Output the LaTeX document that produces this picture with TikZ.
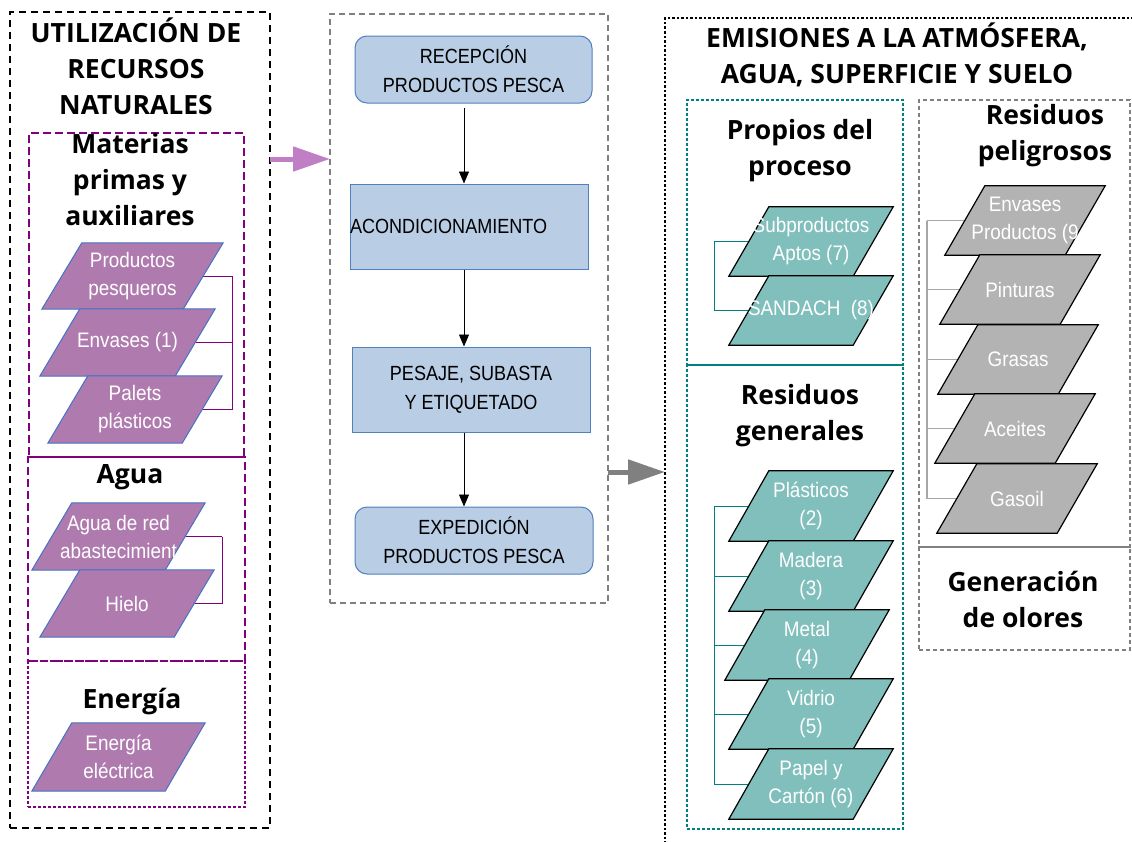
\documentclass[tikz,border=0pt]{standalone}
\usepackage{fontspec}
\setmainfont{Open Sans}
\newfontfamily\narrowfont[FakeStretch=0.88]{Liberation Sans}
\newfontfamily\paralfont[FakeStretch=0.9]{Liberation Sans}
\usetikzlibrary{positioning,arrows.meta,backgrounds}
\pgfdeclarelayer{back}
\pgfsetlayers{back,background,main}

\definecolor{lila}{HTML}{AF7BAF}
\definecolor{lilaline}{HTML}{800080}
\definecolor{lilaborde}{HTML}{4472C4}
\definecolor{flecha}{HTML}{C07EC4}
\definecolor{verde}{HTML}{80BFBC}
\definecolor{verdeline}{HTML}{008080}
\definecolor{gris}{HTML}{B3B3B3}
\definecolor{azul}{HTML}{B9CDE5}
\definecolor{azulline}{HTML}{4F81BD}

% parallelogram: name, top-left x, top y, width, height, style, text
\newcommand{\paral}[7]{%
  \node[ptext, minimum width={#4+40}, minimum height=#5] (#1) at ({#2+#4/2-20},{#3+#5/2}) {#7};
  \begin{pgfonlayer}{background}
    \path[#6] ([xshift=40pt]#1.north west) -- (#1.north east) -- ([xshift=-40pt]#1.south east) -- (#1.south west) -- cycle;
  \end{pgfonlayer}
}

\begin{document}
\begin{tikzpicture}[x=1pt, y=-1pt,
  box/.style={inner sep=0, outer sep=0},
  recframe/.style={draw=black, line width=2.4pt, dash pattern=on 7pt off 5pt},
  lilaframe/.style={draw=lilaline, line width=2.4pt, dash pattern=on 8pt off 4pt},
  liladots/.style={draw=lilaline, line width=2.4pt, dash pattern=on 3pt off 2pt},
  procframe/.style={draw=gray, line width=2pt, dash pattern=on 6pt off 4pt},
  emiframe/.style={draw=black, line width=2.4pt, dash pattern=on 2.5pt off 2pt},
  verdeframe/.style={draw=verdeline, line width=2.4pt, dash pattern=on 3pt off 2pt},
  grisframe/.style={draw=gray, line width=2pt, dash pattern=on 4pt off 3pt},
  heading/.style={font=\fontsize{26.5}{36}\selectfont\bfseries, align=center},
  ptext/.style={font=\paralfont\fontsize{21}{28}\selectfont, text=white, align=center, inner sep=0},
  lilapara/.style={fill=lila, draw=lilaborde, line width=1pt},
  verdepara/.style={fill=verde, draw=black, line width=1.2pt},
  grispara/.style={fill=gris, draw=black, line width=1.2pt},
  paso/.style={fill=azul, draw=azulline, line width=1pt, font=\narrowfont\fontsize{20.5}{29}\selectfont, align=center, inner sep=0},
  flow/.style={-{Triangle[length=12pt,width=10pt]}, line width=0.8pt},
  bigarrow/.style={line width=5pt, -{Triangle[length=37pt,width=24pt]}},
  lbrack/.style={lilaline, line width=1pt},
  vbrack/.style={verdeline, line width=1pt},
  gbrack/.style={gray!70, line width=1.2pt}
]
\path[use as bounding box] (0,0) rectangle (1132,841);
\clip (0,0) rectangle (1132,841);

% frames
\node[box, recframe, minimum width=260, minimum height=816] (recursos) at (140,420) {};
\node[box, lilaframe, minimum width=215, minimum height=324] (materias) at (136.5,295) {};
\node[box, lilaframe, minimum width=217, minimum height=204] (agua) at (136.5,559) {};
\node[box, liladots, minimum width=217, minimum height=146] (energia) at (136.5,734) {};
\node[box, procframe, minimum width=278, minimum height=589] (proceso) at (469,308.5) {};
\node[box, emiframe, minimum width=500, minimum height=850] (emisiones) at (915,443) {};
\node[box, verdeframe, minimum width=216, minimum height=265] (propios) at (795,232.5) {};
\node[box, verdeframe, minimum width=216, minimum height=464] (generales) at (795,597) {};
\node[box, grisframe, minimum width=211, minimum height=447] (peligrosos) at (1024.5,323.5) {};
\node[box, grisframe, minimum width=211, minimum height=103] (olores) at (1024.5,598.5) {};

% headings
\node[heading] (tusos) at (136,66) {UTILIZACIÓN DE\\RECURSOS\\NATURALES};
\node[heading] (tmaterias) at (130,180) {Materias\\primas y\\auxiliares};
\node[heading] (tagua) at (130,477) {Agua};
\node[heading] (tenergia) at (132,702) {Energía};
\node[heading] (temisiones) at (897,55) {EMISIONES A LA ATMÓSFERA,\\AGUA, SUPERFICIE Y SUELO};
\node[heading] (tpropios) at (800,151) {Propios del\\proceso};
\node[heading] (tgenerales) at (800,416) {Residuos\\generales};
\node[heading] (tpeligrosos) at (1045,136) {Residuos\\peligrosos};
\node[heading] (tolores) at (1023,599) {Generación\\de olores};

% inputs
\paral{pp1}{82}{243}{141}{66}{lilapara}{Productos\\pesqueros}
\paral{pp2}{80}{309}{135}{67}{lilapara}{Envases (1)}
\paral{pp3}{88}{376}{134}{67}{lilapara}{Palets\\plásticos}
\paral{pa1}{72}{503}{133}{67}{lilapara}{Agua de red\\abastecimient}
\paral{pa2}{80}{570}{134}{67}{lilapara}{Hielo}
\paral{pe1}{72}{723}{133}{68}{lilapara}{Energía\\eléctrica}

% process
\node[paso, rounded corners=12pt, minimum width=237, minimum height=67] (recep) at (473.5,69.5) {RECEPCIÓN\\PRODUCTOS PESCA};
\node[paso, minimum width=238, minimum height=85, text width=238pt, align=left] (acond) at (469,226.5) {ACONDICIONAMIENTO};
\node[paso, minimum width=238, minimum height=85] (pesaje) at (471,389.5) {PESAJE, SUBASTA\\Y ETIQUETADO};
\node[paso, rounded corners=12pt, minimum width=238, minimum height=67] (exped) at (474,540.5) {EXPEDICIÓN\\PRODUCTOS PESCA};

\coordinate (flowx) at (464,0);
\draw[flow, shorten <=4pt] (recep.south -| flowx) -- (acond.north -| flowx);
\draw[flow] (acond.south -| flowx) -- (pesaje.north -| flowx);
\draw[flow] (pesaje.south -| flowx) -- (exped.north -| flowx);

% outputs
\foreach \n/\y/\t in {tp1/207/{Subproductos\\Aptos (7)}, tp2/276/{SANDACH\ \ (8)}}
  \paral{\n}{769}{\y}{124}{69}{verdepara}{\t};
\foreach \n/\x/\y/\t in {gp1/769/471/{Plásticos\\(2)}, gp2/769/541/{Madera\\(3)}, gp3/765/610/{Metal\\(4)},
    gp4/769/679/{Vidrio\\(5)}, gp5/769/749/{Papel y\\Cartón (6)}}
  \paral{\n}{\x}{\y}{124}{70}{verdepara}{\t};
\foreach \n/\x/\y/\t in {rp1/985/186/{Envases\\Productos (9}, rp2/980/255/Pinturas, rp3/978/325/Grasas,
    rp4/975/394/Aceites, rp5/977/464/Gasoil}
  \paral{\n}{\x}{\y}{120}{69}{grispara}{\t};

% brackets
\coordinate (lspine1) at (232,0);
\coordinate (lspine2) at (222,0);
\coordinate (vspine) at (714,0);
\coordinate (gspine) at (927,0);
\begin{pgfonlayer}{back}
\foreach \n in {pp1,pp2,pp3}
  \draw[lbrack] ([xshift=-20pt]\n.east) -- (\n.east -| lspine1);
\draw[lbrack] (pp1.east -| lspine1) -- (pp3.east -| lspine1);
\foreach \n in {pa1,pa2}
  \draw[lbrack] ([xshift=-20pt]\n.east) -- (\n.east -| lspine2);
\draw[lbrack] (pa1.east -| lspine2) -- (pa2.east -| lspine2);
\foreach \n in {tp1,tp2,gp1,gp2,gp3,gp4,gp5}
  \draw[vbrack] ([xshift=20pt]\n.west) -- (\n.west -| vspine);
\draw[vbrack] (tp1.west -| vspine) -- (tp2.west -| vspine);
\draw[vbrack] (gp1.west -| vspine) -- (gp5.west -| vspine);
\foreach \n in {rp1,rp2,rp3,rp4,rp5}
  \draw[gbrack] ([xshift=20pt]\n.west) -- (\n.west -| gspine);
\draw[gbrack] (rp1.west -| gspine) -- (rp5.west -| gspine);
\end{pgfonlayer}

% between blocks
\coordinate (pinky) at (0,159);
\coordinate (grisy) at (0,472);
\draw[bigarrow, flecha] (recursos.east |- pinky) -- (proceso.west |- pinky);
\draw[bigarrow, gray] (proceso.east |- grisy) -- (emisiones.west |- grisy);
\end{tikzpicture}
\end{document}
